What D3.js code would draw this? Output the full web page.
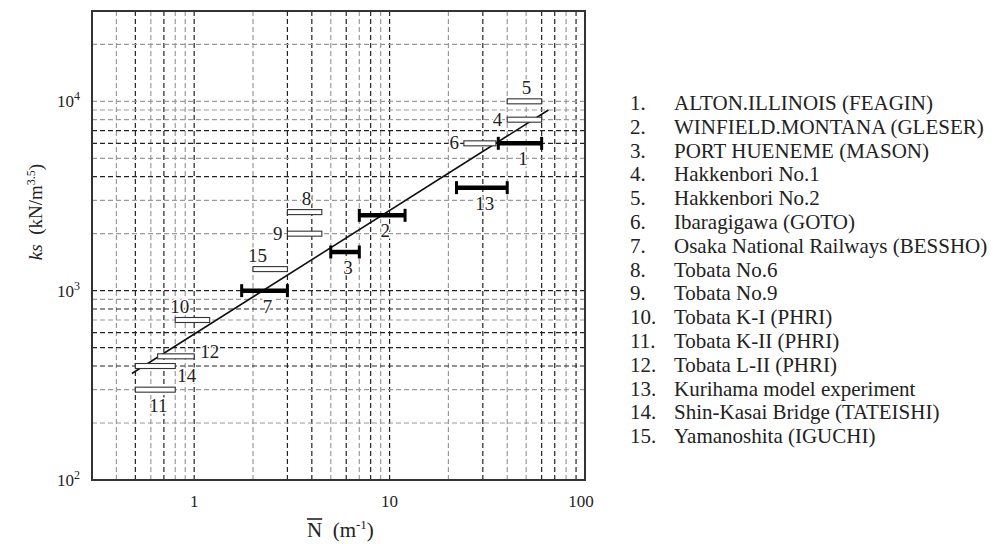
<!DOCTYPE html>
<html>
<head>
<meta charset="utf-8">
<script src="https://cdn.jsdelivr.net/npm/d3@7"></script>
<style>
  body { margin: 0; background: #fff; }
  svg { display: block; font-family: 'Liberation Serif', 'Times New Roman', serif; }
</style>
</head>
<body>
<svg id="chart" width="995" height="544"></svg>
<script>
// site numbers and names (legend)
const siteNames = [
  'ALTON.ILLINOIS (FEAGIN)',
  'WINFIELD.MONTANA (GLESER)',
  'PORT  HUENEME (MASON)',
  'Hakkenbori No.1',
  'Hakkenbori No.2',
  'Ibaragigawa (GOTO)',
  'Osaka National Railways (BESSHO)',
  'Tobata No.6',
  'Tobata No.9',
  'Tobata K-I (PHRI)',
  'Tobata K-II (PHRI)',
  'Tobata L-II (PHRI)',
  'Kurihama model experiment',
  'Shin-Kasai Bridge (TATEISHI)',
  'Yamanoshita (IGUCHI)',
];

// N range (m^-1) and ks (kN/m^3.5) for each site
const nLow = [36, 7, 5, 40, 40, 24, 1.75, 3, 3, 0.8, 0.5, 0.65, 22, 0.5, 2];
const nHigh = [60, 12, 7, 60, 60, 35, 3, 4.5, 4.5, 1.2, 0.8, 1.0, 40, 0.8, 3];
const ksValue = [6000, 2500, 1600, 8000, 10000, 6000, 1000, 2600, 2000, 700, 300, 450, 3500, 400, 1300];
// field measurement (black bar) or other (open bar)
const barKind = ['field', 'field', 'field', 'open', 'open', 'open', 'field', 'open', 'open', 'open', 'open', 'open', 'field', 'open', 'open'];
const labelSide = ['below', 'below', 'below', 'left', 'above', 'left', 'below', 'above', 'left', 'aboveStart', 'below', 'right', 'below', 'belowRight', 'aboveStart'];

// fitted line end points
const fitN = [0.48, 65];
const fitKs = [365, 9000];

// axes
const xDomain = [0.3, 100];
const yDomain = [100, 30000];
const xTickValues = [1, 10, 100];
const yTickExp = [2, 3, 4];
const xGrid = [0.4, 0.5, 0.6, 0.7, 0.8, 0.9, 1, 2, 3, 4, 5, 6, 7, 8, 9, 10, 20, 30, 40, 50, 60, 70, 80, 90];
const yGrid = [200, 300, 400, 500, 600, 700, 800, 900, 1000, 2000, 3000, 4000, 5000, 6000, 7000, 8000, 9000, 10000, 20000];
const xGridDark = [0.5, 0.7, 1, 3, 4, 6, 8, 10, 30, 60, 70, 90];
const yGridDark = [400, 500, 600, 800, 1000, 4000, 6000, 7000];

const plot = { left: 92, top: 11, right: 585, bottom: 480 };

const svg = d3.select('#chart');

const xScale = d3.scaleLog().domain(xDomain).range([plot.left, plot.right]);
const yScale = d3.scaleLog().domain(yDomain).range([plot.bottom, plot.top]);

// grid
const grid = svg.append('g').attr('class', 'grid');
grid
  .selectAll('line.vx')
  .data(xGrid)
  .enter()
  .append('line')
  .attr('class', 'vx')
  .attr('x1', d => xScale(d))
  .attr('x2', d => xScale(d))
  .attr('y1', plot.top)
  .attr('y2', plot.bottom)
  .style('stroke', d => (xGridDark.includes(d) ? '#222' : '#9a9a9a'))
  .style('stroke-width', 1.2)
  .style('stroke-dasharray', '5,3');

grid
  .selectAll('line.hy')
  .data(yGrid)
  .enter()
  .append('line')
  .attr('class', 'hy')
  .attr('x1', plot.left)
  .attr('x2', plot.right)
  .attr('y1', d => yScale(d))
  .attr('y2', d => yScale(d))
  .style('stroke', d => (yGridDark.includes(d) ? '#222' : '#9a9a9a'))
  .style('stroke-width', 1.2)
  .style('stroke-dasharray', '5,3');

// frame
svg
  .append('rect')
  .attr('x', plot.left)
  .attr('y', plot.top)
  .attr('width', plot.right - plot.left)
  .attr('height', plot.bottom - plot.top)
  .style('fill', 'none')
  .style('stroke', '#333')
  .style('stroke-width', 2);

// x tick labels
svg
  .selectAll('text.xtick')
  .data(xTickValues)
  .enter()
  .append('text')
  .attr('class', 'xtick')
  .attr('x', d => xScale(d) - (d === 100 ? 4 : 0))
  .attr('y', plot.bottom + 27)
  .attr('text-anchor', 'middle')
  .style('font-size', '17px')
  .style('fill', '#222')
  .text(d => d);

// y tick labels 10^n
const yTick = svg
  .selectAll('text.ytick')
  .data(yTickExp)
  .enter()
  .append('text')
  .attr('class', 'ytick')
  .attr('x', plot.left - 12)
  .attr('y', d => yScale(10 ** d) + 6)
  .attr('text-anchor', 'end')
  .style('font-size', '17px')
  .style('fill', '#222');
yTick.append('tspan').text('10');
yTick
  .append('tspan')
  .attr('dy', -7)
  .style('font-size', '12px')
  .text(d => d);

// fitted line
svg
  .append('path')
  .datum(fitN.map((n, i) => [n, fitKs[i]]))
  .attr('d', d3.line().x(d => xScale(d[0])).y(d => yScale(d[1])))
  .style('fill', 'none')
  .style('stroke', '#111')
  .style('stroke-width', 1.6);

const sites = siteNames.map((name, i) => ({
  id: i + 1,
  name,
  n0: nLow[i],
  n1: nHigh[i],
  ks: ksValue[i],
  kind: barKind[i],
  side: labelSide[i],
}));

// open bars
svg
  .selectAll('rect.open')
  .data(sites.filter(d => d.kind === 'open'))
  .enter()
  .append('rect')
  .attr('class', 'open')
  .attr('x', d => xScale(d.n0))
  .attr('y', d => yScale(d.ks) - 2.5)
  .attr('width', d => xScale(d.n1) - xScale(d.n0))
  .attr('height', 5)
  .style('fill', '#fff')
  .style('stroke', '#333')
  .style('stroke-width', 1.1);

// field bars with end caps
const field = svg
  .selectAll('g.field')
  .data(sites.filter(d => d.kind === 'field'))
  .enter()
  .append('g')
  .attr('class', 'field');
field
  .append('line')
  .attr('x1', d => xScale(d.n0))
  .attr('x2', d => xScale(d.n1))
  .attr('y1', d => yScale(d.ks))
  .attr('y2', d => yScale(d.ks))
  .style('stroke', '#000')
  .style('stroke-width', 4.5);
['n0', 'n1'].forEach(k => {
  field
    .append('line')
    .attr('x1', d => xScale(d[k]))
    .attr('x2', d => xScale(d[k]))
    .attr('y1', d => yScale(d.ks) - 6.5)
    .attr('y2', d => yScale(d.ks) + 6.5)
    .style('stroke', '#000')
    .style('stroke-width', 3);
});

// bar number labels
const labelPos = d => {
  const x0 = xScale(d.n0);
  const x1 = xScale(d.n1);
  const xm = (x0 + x1) / 2;
  const y = yScale(d.ks);
  switch (d.side) {
    case 'above':
      return { x: xm + 2, y: y - 7, anchor: 'middle' };
    case 'aboveStart':
      return { x: x0 - 5, y: y - 7, anchor: 'start' };
    case 'left':
      return { x: x0 - 5, y: y + 6, anchor: 'end' };
    case 'right':
      return { x: x1 + 6, y: y + 2, anchor: 'start' };
    case 'belowRight':
      return { x: x1 + 2, y: y + 16, anchor: 'start' };
    default:
      return { x: xm + 3, y: y + 22, anchor: 'middle' };
  }
};

svg
  .selectAll('text.num')
  .data(sites)
  .enter()
  .append('text')
  .attr('class', 'num')
  .attr('x', d => labelPos(d).x)
  .attr('y', d => labelPos(d).y)
  .attr('text-anchor', d => labelPos(d).anchor)
  .style('font-size', '19px')
  .style('fill', '#222')
  .style('paint-order', 'stroke')
  .style('stroke', '#fff')
  .style('stroke-width', 3)
  .text(d => d.id);

// axis titles
const yTitle = svg
  .append('text')
  .attr('transform', 'translate(42,212) rotate(-90)')
  .attr('text-anchor', 'middle')
  .style('font-size', '19px')
  .style('fill', '#222');
yTitle.append('tspan').style('font-style', 'italic').text('ks');
yTitle.append('tspan').text('\u00a0 (kN/m');
yTitle.append('tspan').attr('dy', -7).style('font-size', '12px').text('3.5');
yTitle.append('tspan').attr('dy', 7).text(')');

const xTitle = svg
  .append('text')
  .attr('x', 307)
  .attr('y', 537)
  .style('font-size', '21px')
  .style('fill', '#222');
xTitle.append('tspan').attr('class', 'nbar').text('N');
xTitle.append('tspan').text('\u00a0 (m');
xTitle.append('tspan').attr('dy', -8).style('font-size', '13px').text('-1');
xTitle.append('tspan').attr('dy', 8).text(')');
const nBox = xTitle.select('.nbar').node().getBBox();
svg
  .append('line')
  .attr('x1', nBox.x)
  .attr('x2', nBox.x + nBox.width)
  .attr('y1', nBox.y + 1)
  .attr('y2', nBox.y + 1)
  .style('stroke', '#222')
  .style('stroke-width', 1.6);

// legend
const legend = svg
  .selectAll('g.legend')
  .data(sites)
  .enter()
  .append('g')
  .attr('class', 'legend')
  .attr('transform', (d, i) => `translate(630,${110 + i * 23.8})`)
  .style('font-size', '21px')
  .style('fill', '#222');
legend.append('text').text(d => `${d.id}.`);
legend.append('text').attr('x', 44).text(d => d.name);
</script>
</body>
</html>
